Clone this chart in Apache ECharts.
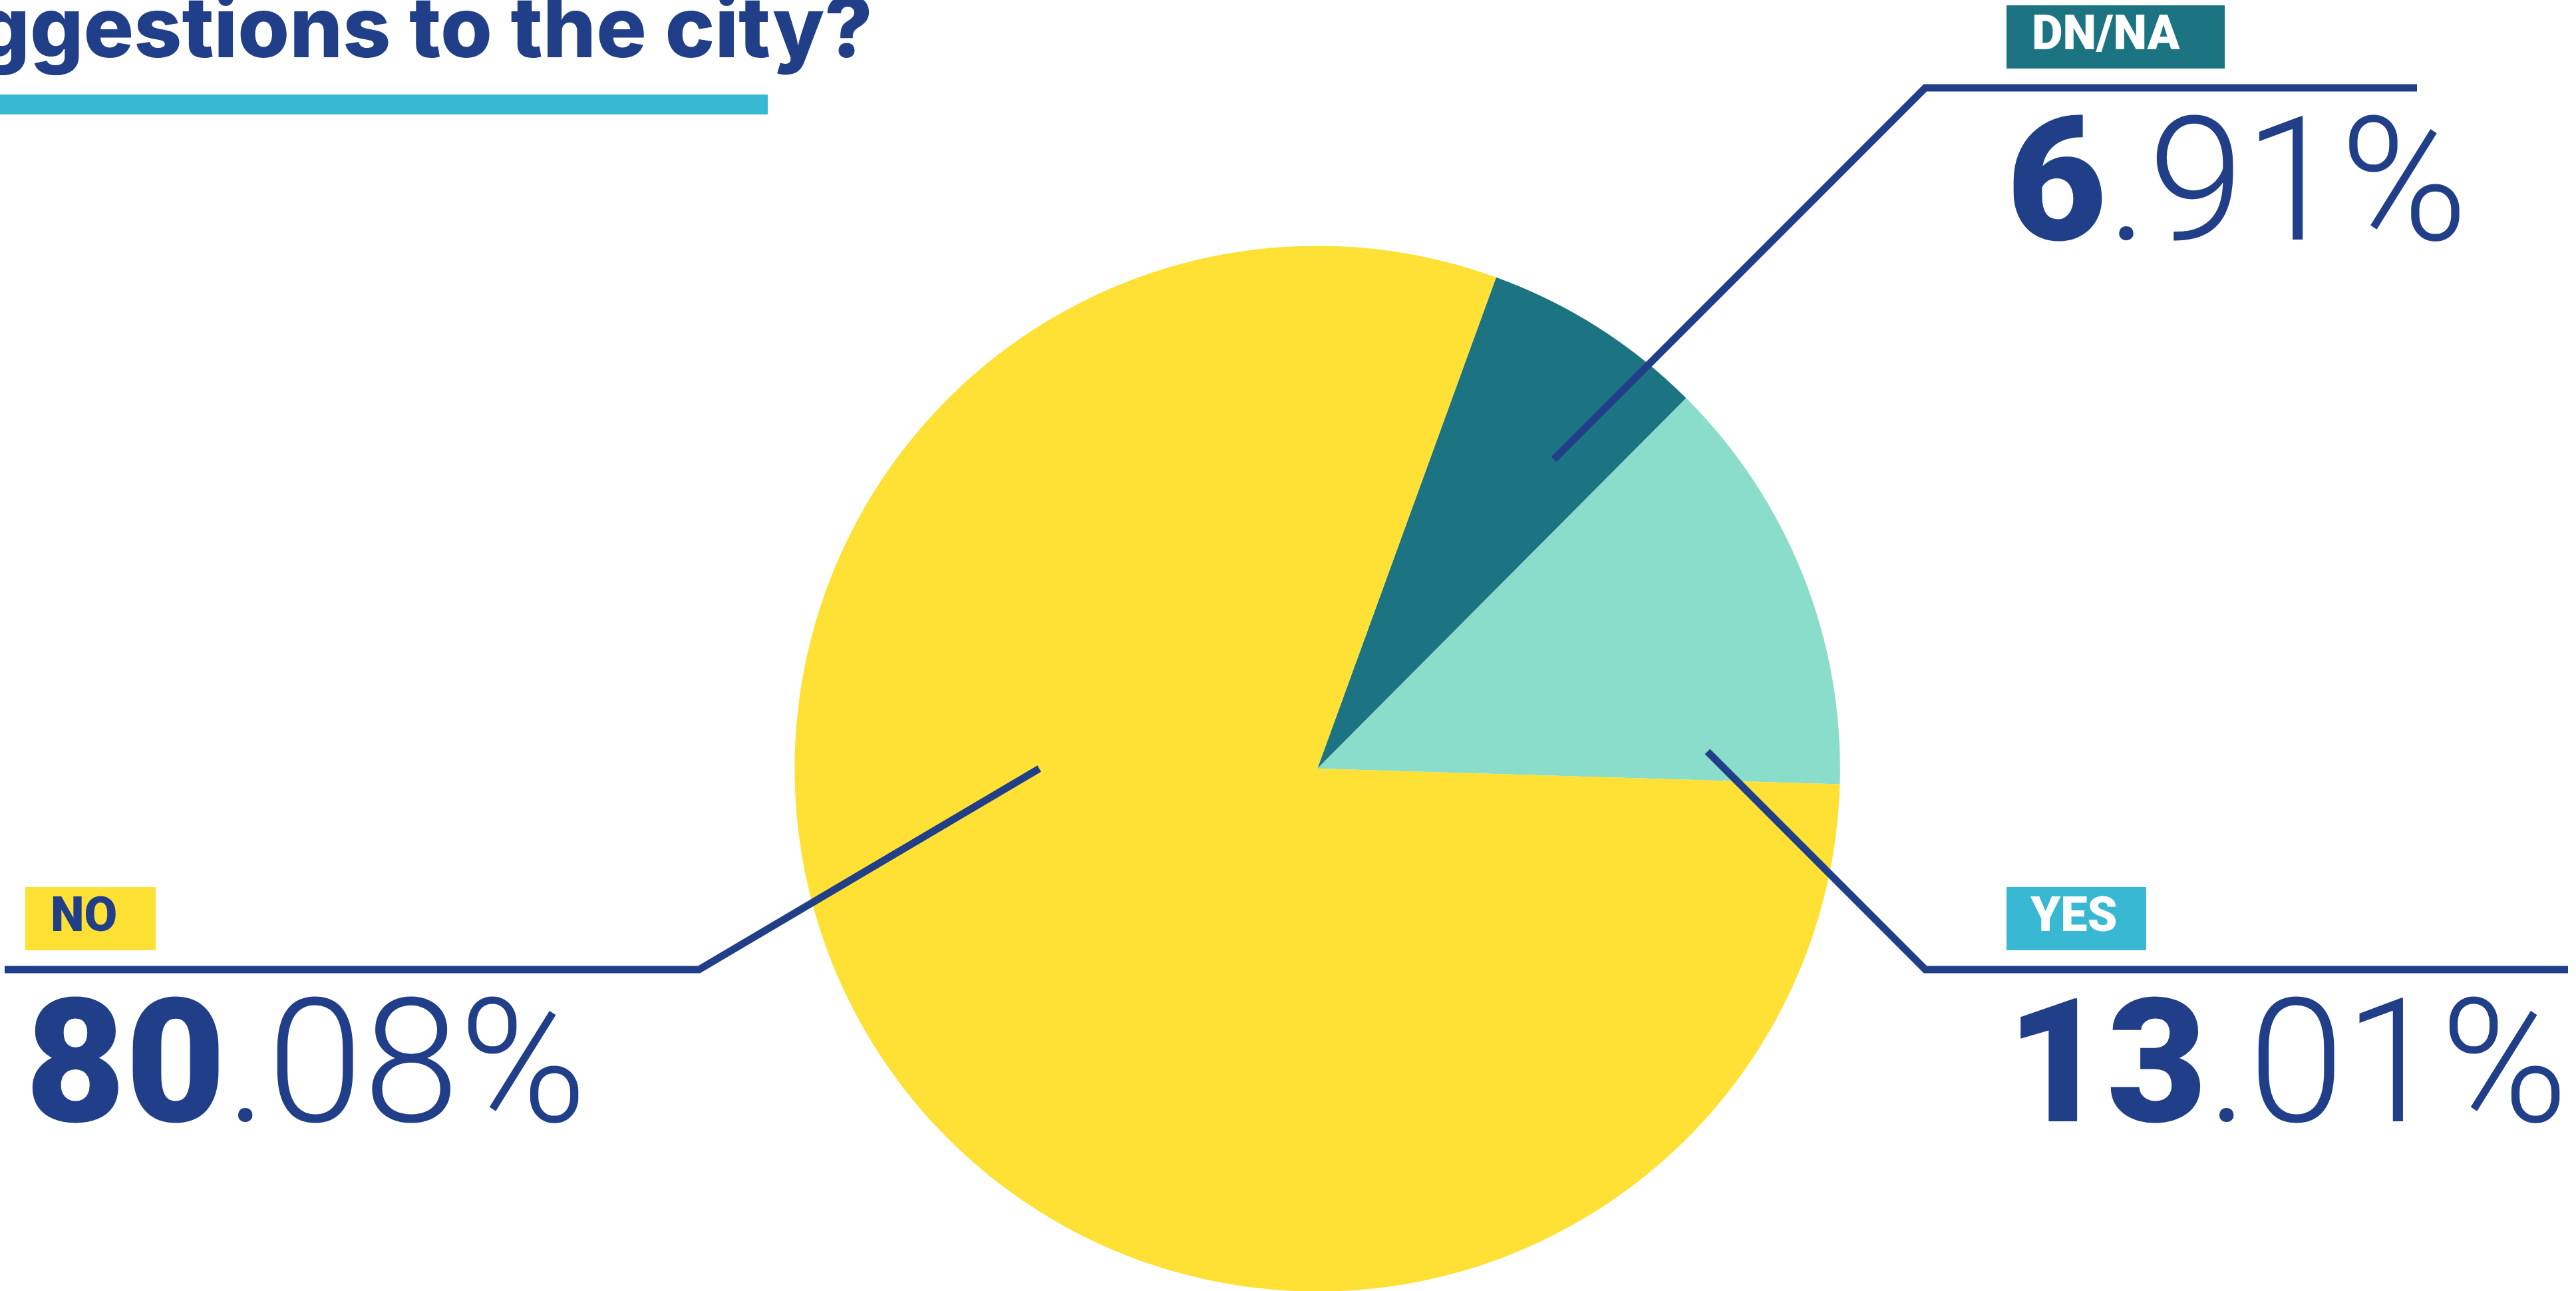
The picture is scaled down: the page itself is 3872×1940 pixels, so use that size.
<!DOCTYPE html>
<html><head><meta charset="utf-8">
<script src="https://cdn.jsdelivr.net/npm/echarts@6/dist/echarts.min.js"></script>
<style>html,body{margin:0;padding:0;background:#fff}#c{width:3872px;height:1940px}</style>
</head><body><div id="c"></div>
<script>
// ---- data ----
const categories = ['DN/NA', 'YES', 'NO'];
const values = [6.91, 13.01, 80.08];
const sliceColors = ['#1C7482', '#8ADDCB', '#FEE134'];
const titleText = 'suggestions to the city?';

// ---- style / layout ----
const NAVY = '#213F88';
const CYAN = '#38B8D2';
const chart = echarts.init(document.getElementById('c'), null, {renderer: 'canvas'});
const W = chart.getWidth(), H = chart.getHeight();
const CENTER = [0.5114, 0.5954];
const RADIUS_FRAC = 0.81;
const BOX_H = 95;

const labelPlan = {
  'DN/NA': {x: 3016, y: 8,    lineEnd: 3633, startR: 0.745, startAng: 52.6, run: 1.0},
  'YES':   {x: 3016, y: 1333, lineEnd: 3860, startR: 0.747, startAng: 2.5,  run: 1.0},
  'NO':    {x: 38,   y: 1333, lineEnd: 7,    startR: 0.532, startAng: 180,  run: 1.694}
};
const boxKeys = ['boxDN', 'boxYES', 'boxNO'];

const pieBase = {
  type: 'pie',
  center: [(CENTER[0] * 100) + '%', (CENTER[1] * 100) + '%'],
  radius: (RADIUS_FRAC * 100) + '%',
  startAngle: 70,
  clockwise: true,
  silent: true,
  avoidLabelOverlap: false
};

const option = {
  backgroundColor: '#ffffff',
  animation: false,
  graphic: [
    {type: 'text', x: 1312, y: 48, silent: true,
     style: {text: titleText, fontFamily: 'Inter', fontWeight: 800, fontSize: 126,
             fill: NAVY, align: 'right', verticalAlign: 'middle'}},
    {type: 'rect', silent: true, shape: {x: 0, y: 142, width: 1154, height: 30},
     style: {fill: CYAN}}
  ],
  series: [
    Object.assign({}, pieBase, {
      z: 2,
      data: categories.map((n, i) => ({name: n, value: values[i], itemStyle: {color: sliceColors[i]}})),
      label: {show: false},
      labelLine: {show: false}
    }),
    Object.assign({}, pieBase, {
      z: 3,
      data: categories.map((n, i) => ({name: n, value: values[i], itemStyle: {color: 'rgba(0,0,0,0)'}})),
      label: {
        show: true,
        position: 'outside',
        align: 'left',
        formatter: function (p) {
          const parts = Number(p.value).toFixed(2).split('.');
          return '{' + boxKeys[p.dataIndex] + '|' + p.name + '}\n{big|' + parts[0] + '}{thin|.' + parts[1] + '%}';
        },
        rich: {
          boxDN:  {width: 328 - 38, height: BOX_H, lineHeight: BOX_H, padding: [0, 0, 0, 38],
                   backgroundColor: '#1C7482', color: '#ffffff', fontSize: 72, fontWeight: 900, fontFamily: 'Roboto'},
          boxYES: {width: 210 - 36, height: BOX_H, lineHeight: BOX_H, padding: [0, 0, 0, 36],
                   backgroundColor: CYAN, color: '#ffffff', fontSize: 72, fontWeight: 900, fontFamily: 'Roboto'},
          boxNO:  {width: 196 - 38, height: BOX_H, lineHeight: BOX_H, padding: [0, 0, 0, 38],
                   backgroundColor: '#FEE134', color: NAVY, fontSize: 72, fontWeight: 900, fontFamily: 'Roboto'},
          big:  {fontSize: 260, fontWeight: 900, fontFamily: 'Roboto', color: NAVY, lineHeight: 384},
          thin: {fontSize: 260, fontWeight: 300, fontFamily: 'Roboto', color: NAVY, lineHeight: 384}
        }
      },
      labelLine: {show: true, smooth: false, lineStyle: {color: NAVY, width: 11}},
      labelLayout: function (params) {
        const name = categories[params.dataIndex];
        const p = labelPlan[name];
        const cx = W * CENTER[0], cy = H * CENTER[1];
        const R = RADIUS_FRAC * Math.min(W, H) / 2;
        const a = p.startAng * Math.PI / 180;
        const sx = cx + R * p.startR * Math.cos(a);
        const sy = cy - R * p.startR * Math.sin(a);
        const lineY = p.y + BOX_H + 29;
        const dir = p.lineEnd > sx ? 1 : -1;
        const ex = sx + dir * Math.abs(lineY - sy) * p.run;
        return {
          x: p.x, y: p.y, align: 'left', verticalAlign: 'top',
          labelLinePoints: [[sx, sy], [ex, lineY], [p.lineEnd, lineY]]
        };
      }
    })
  ]
};
chart.setOption(option);
</script></body></html>
